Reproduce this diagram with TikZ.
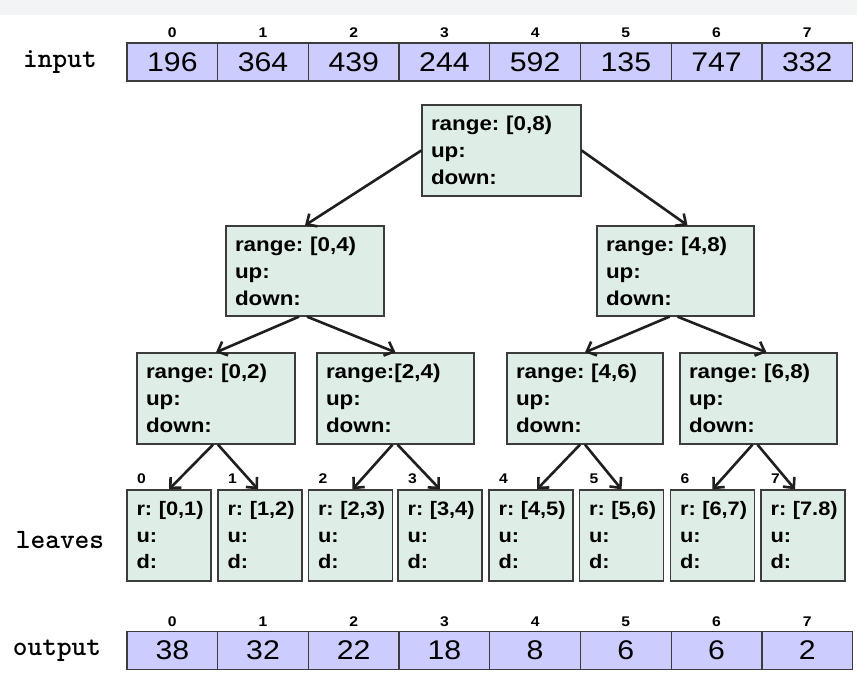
\documentclass[tikz,border=0pt]{standalone}
\usepackage{fontspec}
\setmainfont[FakeStretch=1.12]{Liberation Sans}
\usetikzlibrary{arrows.meta}
\definecolor{cellfill}{RGB}{204,204,255}
\definecolor{nodefill}{RGB}{222,238,230}
\definecolor{edgec}{RGB}{60,60,60}
\definecolor{band}{RGB}{243,244,246}
\frenchspacing
\tikzset{
 cell/.style={draw=edgec, fill=cellfill, line width=1.3pt, minimum width=90.7pt, minimum height=38pt, inner sep=0pt, font=\fontsize{27}{27}\selectfont},
 idx/.style={font=\bfseries\fontsize{14}{14}\selectfont, inner sep=0pt},
 rowlab/.style={font=\ttfamily\bfseries\fontsize{28}{28}\selectfont, inner sep=0pt},
 tnode/.style={draw=edgec, fill=nodefill, line width=1.3pt, inner xsep=9pt, inner ysep=0pt, align=left, font=\frenchspacing\bfseries\fontsize{20}{27}\selectfont},
 leaf/.style={draw=edgec, fill=nodefill, line width=1.3pt, inner xsep=9.5pt, inner ysep=0pt, align=left, minimum width=84pt, text width=65pt, minimum height=91pt, font=\frenchspacing\bfseries\fontsize{19.5}{26.5}\selectfont},
 arr/.style={line width=2.6pt, draw=black!88, -{Straight Barb[length=8pt,width=15pt]}},
}
\begin{document}
\begin{tikzpicture}[x=1pt,y=-1pt]
\useasboundingbox (0,0) rectangle (857,676);
\fill[white] (0,0) rectangle (857,676);
\fill[band] (0,0) rectangle (857,15);
% input row
\node[rowlab] (inlab) at (60,62) {input};
\foreach \v [count=\i from 0] in {196,364,439,244,592,135,747,332}{
  \node[cell] (in\i) at ({127+90.7*(\i+0.5)},62) {\v};
  \node[idx] (inidx\i) at ({127+90.7*(\i+0.5)},33) {\i};
}
% output row
\node[rowlab] (outlab) at (57,651) {output};
\foreach \v [count=\i from 0] in {38,32,22,18,8,6,6,2}{
  \node[cell] (out\i) at ({127+90.7*(\i+0.5)},650.5) {\v};
  \node[idx] (outidx\i) at ({127+90.7*(\i+0.5)},622) {\i};
}
% tree
\node[tnode, minimum width=159pt, minimum height=91pt, text width=141pt] (root) at (501.5,150.5) {range: [0,8)\\up:\\down:};
\node[tnode, minimum width=158pt, minimum height=90pt, text width=140pt] (L) at (305,271) {range: [0,4)\\up:\\down:};
\node[tnode, minimum width=157pt, minimum height=90pt, text width=139pt] (R) at (675.5,271) {range: [4,8)\\up:\\down:};
\node[tnode, minimum width=158pt, minimum height=91pt, text width=140pt] (A) at (216,398.5) {range: [0,2)\\up:\\down:};
\node[tnode, minimum width=157pt, minimum height=91pt, text width=139pt] (B) at (395.5,398.5) {range:[2,4)\\up:\\down:};
\node[tnode, minimum width=156pt, minimum height=91pt, text width=138pt] (C) at (585,398.5) {range: [4,6)\\up:\\down:};
\node[tnode, minimum width=157pt, minimum height=91pt, text width=139pt] (D) at (758.5,398.5) {range: [6,8)\\up:\\down:};
% leaves
\node[rowlab] (leaflab) at (60,540) {leaves};
\foreach \x/\t [count=\i from 0] in {169/{[0,1)},260/{[1,2)},350.5/{[2,3)},440/{[3,4)},531/{[4,5)},621.5/{[5,6)},712.5/{[6,7)},803/{[7.8)}}{
  \node[leaf] (lf\i) at (\x,535.5) {\mbox{r: \t}\\u:\\d:};
  \node[idx] (lfidx\i) at ({\x-27.5},479) {\i};
}
% arrows
\draw[arr] (root.west) -- (L.north);
\draw[arr] (root.east) -- ([xshift=12pt]R.north);
\draw[arr] ([xshift=-6pt]L.south) -- (A.north);
\draw[arr] ([xshift=2pt]L.south) -- (B.north);
\draw[arr] ([xshift=-6pt]R.south) -- (C.north);
\draw[arr] ([xshift=2pt]R.south) -- ([xshift=8pt]D.north);
\draw[arr] ([xshift=-3pt]A.south) -- (lf0.north);
\draw[arr] ([xshift=2pt]A.south) -- ([xshift=-2pt]lf1.north);
\draw[arr] ([xshift=-3pt]B.south) -- ([xshift=2pt]lf2.north);
\draw[arr] ([xshift=2pt]B.south) -- (lf3.north);
\draw[arr] ([xshift=-5pt]C.south) -- ([xshift=6pt]lf4.north);
\draw[arr] ([xshift=0pt]C.south) -- (lf5.north);
\draw[arr] ([xshift=-6pt]D.south) -- (lf6.north);
\draw[arr] ([xshift=-1pt]D.south) -- ([xshift=-8pt]lf7.north);
\end{tikzpicture}
\end{document}
